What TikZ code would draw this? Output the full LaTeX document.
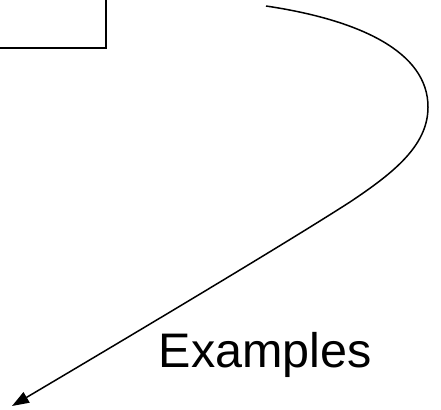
\documentclass[tikz,border=0pt]{standalone}
\usepackage{fontspec}
\setmainfont{Liberation Sans}
\usetikzlibrary{arrows.meta}
\begin{document}
\begin{tikzpicture}[x=1pt,y=-1pt,
  framebox/.style={draw=black,line width=1.6pt,fill=none},
  flow/.style={draw=black,line width=1.5pt,-{Triangle[length=17pt,width=12pt]}},
  caption/.style={font=\fontsize{48.5pt}{48.5pt}\selectfont,inner sep=0pt,anchor=base west}]
  \useasboundingbox (0,0) rectangle (441,409);
  \clip (0,0) rectangle (441,409);
  % box whose top-left part runs off the page
  \draw[framebox] (-60,-60) rectangle (106,48);
  \coordinate (boxcorner) at (106,48);
  % curved connector
  \coordinate (start) at (266,6);
  \coordinate (turn) at (428,107);
  \coordinate (mid) at (350,202);
  \coordinate (tip) at (12,406);
  \draw[flow] (start) .. controls (360,20) and (428,52) .. (turn)
    .. controls (428,145) and (395,172) .. (mid)
    .. controls (280,247) and (110,348) .. (tip);
  \node[caption] (examples) at (158.5,367) {Examples};
\end{tikzpicture}
\end{document}
